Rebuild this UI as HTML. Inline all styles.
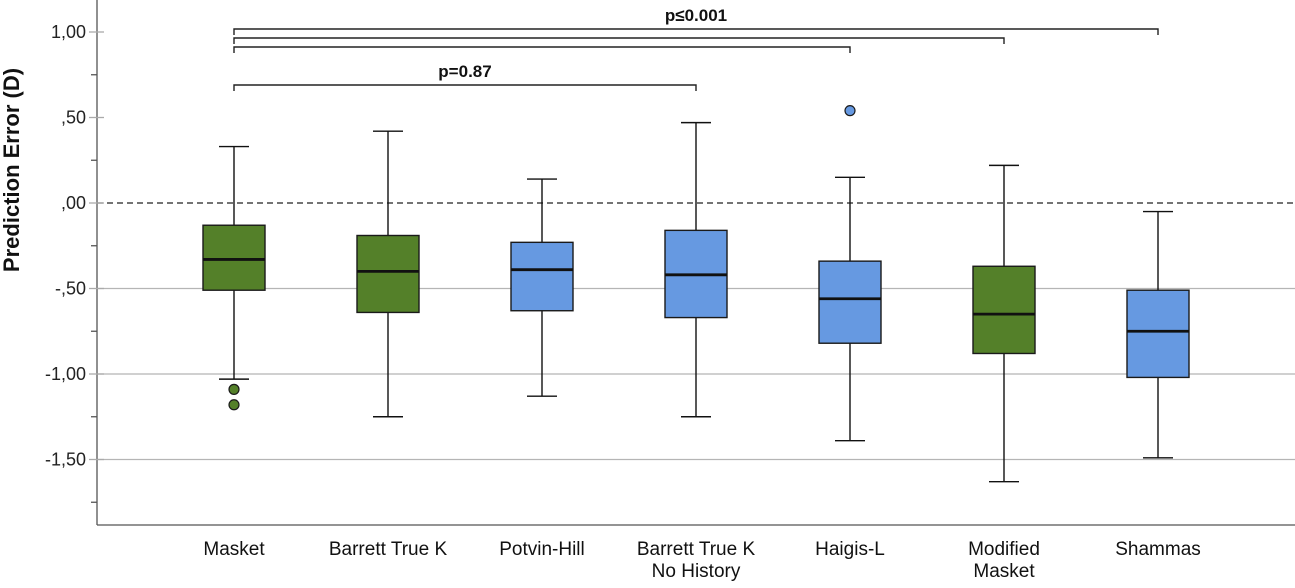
<!DOCTYPE html>
<html><head><meta charset="utf-8"><style>
body{margin:0;background:#fff;}
svg text{font-family:"Liberation Sans",Arial,sans-serif;}
</style></head><body>
<svg id="chart" width="1295" height="583" xmlns="http://www.w3.org/2000/svg"></svg>
<script>
const categories=[["Masket"],["Barrett True K"],["Potvin-Hill"],["Barrett True K","No History"],["Haigis-L"],["Modified","Masket"],["Shammas"]];
const groupColor=["green","green","blue","blue","blue","green","blue"];
const whiskerHigh=[0.33,0.42,0.14,0.47,0.15,0.22,-0.05];
const q3=[-0.13,-0.19,-0.23,-0.16,-0.34,-0.37,-0.51];
const medians=[-0.33,-0.40,-0.39,-0.42,-0.56,-0.65,-0.75];
const q1=[-0.51,-0.64,-0.63,-0.67,-0.82,-0.88,-1.02];
const whiskerLow=[-1.03,-1.25,-1.13,-1.25,-1.39,-1.63,-1.49];
const outliers=[[-1.09,-1.18],[],[],[],[0.54],[],[]];
const tickValues=[1,0.5,0,-0.5,-1,-1.5];
const tickLabels=["1,00",",50",",00","-,50","-1,00","-1,50"];
const minorTicks=[0.75,0.25,-0.25,-0.75,-1.25,-1.75];
const gridValues=[-0.5,-1,-1.5];

const svg=document.getElementById('chart');
const NS='http://www.w3.org/2000/svg';
const y=v=>203-v*171;
const x=i=>234+i*154;
const colors={green:'#548029',blue:'#6699e1'};
function mk(t,a,p){const e=document.createElementNS(NS,t);for(const k in a)e.setAttribute(k,a[k]);(p||svg).appendChild(e);return e;}

gridValues.forEach(v=>{
 const g=mk('line',{x1:97,x2:1295,y1:y(v),y2:y(v),stroke:'#b5b5b5','stroke-width':1.3});
 
 
});
const z=mk('line',{x1:97,x2:1295,y1:y(0),y2:y(0),stroke:'#222','stroke-width':1.3,'stroke-dasharray':'6,4'});


const ax=mk('line',{x1:97,x2:97,y1:0,y2:525,stroke:'#555','stroke-width':1.3});


const bx=mk('line',{x1:97,x2:1295,y1:525,y2:525,stroke:'#555','stroke-width':1.3});


tickValues.forEach((v,i)=>{
 mk('line',{x1:89,x2:104,y1:y(v),y2:y(v),stroke:'#aaa','stroke-width':1.3});
 const t=mk('text',{x:86,y:y(v)+6,'text-anchor':'end','font-size':18,fill:'#222'});
 t.textContent=tickLabels[i];
 
 
});
minorTicks.forEach(v=>mk('line',{x1:91,x2:97,y1:y(v),y2:y(v),stroke:'#555','stroke-width':1.3}));
const yt=mk('text',{x:0,y:0,transform:'translate(19,170) rotate(-90)','text-anchor':'middle','font-size':22,'font-weight':'bold',fill:'#111'});
yt.textContent='Prediction Error (D)';



categories.forEach((c,i)=>{
 const cx=x(i),w=62;
 const g=mk('g',{});
 
 
 mk('line',{x1:cx,x2:cx,y1:y(whiskerHigh[i]),y2:y(q3[i]),stroke:'#111','stroke-width':1.4},g);
 mk('line',{x1:cx,x2:cx,y1:y(q1[i]),y2:y(whiskerLow[i]),stroke:'#111','stroke-width':1.4},g);
 mk('line',{x1:cx-15,x2:cx+15,y1:y(whiskerHigh[i]),y2:y(whiskerHigh[i]),stroke:'#111','stroke-width':1.4},g);
 mk('line',{x1:cx-15,x2:cx+15,y1:y(whiskerLow[i]),y2:y(whiskerLow[i]),stroke:'#111','stroke-width':1.4},g);
 mk('rect',{x:cx-w/2,y:y(q3[i]),width:w,height:y(q1[i])-y(q3[i]),fill:colors[groupColor[i]],stroke:'#1a1a1a','stroke-width':1.4},g);
 mk('line',{x1:cx-w/2,x2:cx+w/2,y1:y(medians[i]),y2:y(medians[i]),stroke:'#111','stroke-width':2.8},g);
 outliers[i].forEach(o=>{
  const p=mk('circle',{cx:cx,cy:y(o),r:5,fill:colors[groupColor[i]],stroke:'#1a1a1a','stroke-width':1.2},g);
  
  
 });
 c.forEach((line,j)=>{
  const t=mk('text',{x:cx,y:555+j*22,'text-anchor':'middle','font-size':19,fill:'#111'});
  t.textContent=line;
  
  
 });
});

const bracketTargets=[6,5,4,3];
const bracketY=[29,38,47,85];
bracketTargets.forEach((t,k)=>{
 const by=bracketY[k];
 const p=mk('path',{d:`M${x(0)},${by+6}V${by}H${x(t)}V${by+6}`,fill:'none',stroke:'#222','stroke-width':1.4});
 
 
});
const s1=mk('text',{x:696,y:21,'text-anchor':'middle','font-size':17,'font-weight':'bold',fill:'#111'});
s1.textContent='p≤0.001';


const s2=mk('text',{x:465,y:77,'text-anchor':'middle','font-size':17,'font-weight':'bold',fill:'#111'});
s2.textContent='p=0.87';


</script>
</body></html>
